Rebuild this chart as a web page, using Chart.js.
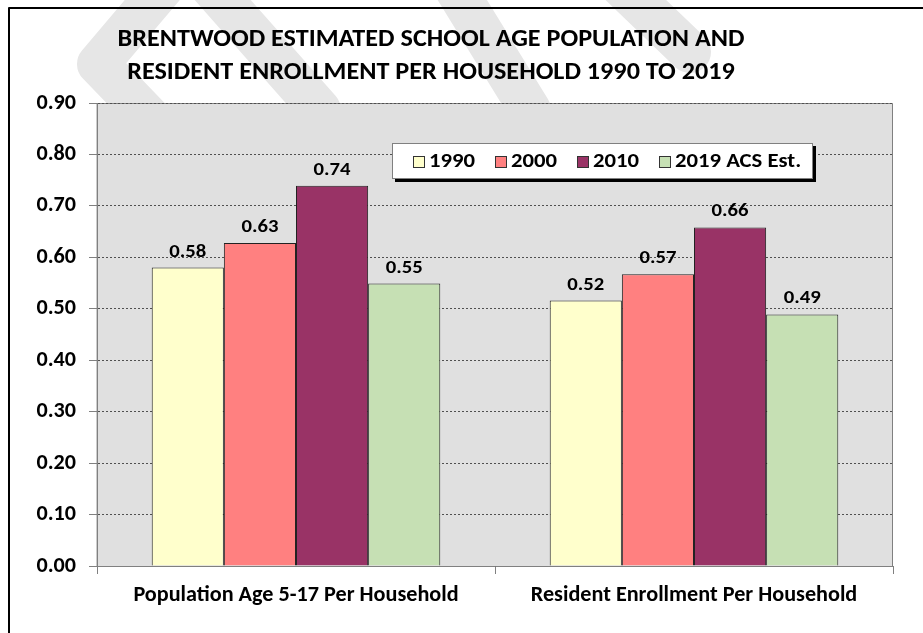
<!DOCTYPE html>
<html>
<head>
<meta charset="utf-8">
<script src="https://cdn.jsdelivr.net/npm/chart.js@4.4.1/dist/chart.umd.min.js"></script>
<style>
  html, body { margin: 0; padding: 0; background: #fff; overflow: hidden; }
  #wrap { position: relative; width: 923px; height: 633px; }
</style>
</head>
<body>
<div id="wrap"><canvas id="chart" width="923" height="633"></canvas></div>
<script>
// chart data
const categories = ['Population Age 5-17 Per Household', 'Resident Enrollment Per Household'];
const seriesLabels = ['1990', '2000', '2010', '2019 ACS Est.'];
const values1990 = [0.580, 0.516];
const values2000 = [0.628, 0.567];
const values2010 = [0.739, 0.658];
const values2019 = [0.549, 0.489];
const seriesColors = ['#FFFFCC', '#FF8080', '#993366', '#C6E0B4'];
const titleLines = ['BRENTWOOD ESTIMATED SCHOOL AGE POPULATION AND', 'RESIDENT ENROLLMENT PER HOUSEHOLD 1990 TO 2019'];

// pick the first installed font from the list
function pickFont(list) {
  const c = document.createElement('canvas').getContext('2d');
  const probe = 'BRENTWOOD 0.90 Household';
  c.font = 'bold 40px monospace';
  const base = c.measureText(probe).width;
  for (const f of list) {
    c.font = `bold 40px "${f}", monospace`;
    if (Math.abs(c.measureText(probe).width - base) > 0.5) return `"${f}"`;
  }
  return 'sans-serif';
}
const FONT = pickFont(['Carlito', 'Calibri', 'Liberation Sans Narrow', 'DejaVu Sans Condensed', 'Liberation Sans']);

// font size that makes text about as wide as in the reference
const measureCtx = document.createElement('canvas').getContext('2d');
function textWidth(text, size) {
  measureCtx.font = `bold ${size}px ${FONT}`;
  return measureCtx.measureText(text).width;
}
function fitSize(text, width) {
  return Math.round(20 * width / textWidth(text, 20) * 10) / 10;
}
const tickSize = fitSize('0.90', 38) * 1.04;
const catSize = fitSize(categories[0], 326);

// the reference text is a little wider than the font, so custom text is drawn stretched
const titleSize = 24;
const titleStretch = 627 / textWidth(titleLines[0], titleSize);
const legendSize = 20;
const legendStretch = 46 / textWidth(seriesLabels[0], legendSize);
const labelSize = 19;
const labelStretch = 37 / textWidth('0.74', labelSize);

function drawText(ctx, text, x, y, stretch, align) {
  ctx.save();
  ctx.translate(x, y);
  ctx.scale(stretch, 1);
  ctx.textAlign = align;
  ctx.fillText(text, 0, 0);
  ctx.restore();
}

Chart.defaults.font.family = FONT;
Chart.defaults.color = '#000';

const frameAndBackground = {
  id: 'frameAndBackground',
  beforeDraw(chart) {
    const { ctx, chartArea: a } = chart;
    ctx.save();
    // faint watermark behind the chart
    ctx.strokeStyle = '#e6e6e6';
    ctx.lineWidth = 42;
    ctx.lineJoin = 'round';
    ctx.lineCap = 'round';
    ctx.beginPath();
    ctx.moveTo(150, 118); ctx.lineTo(98, 64); ctx.lineTo(165, -15);
    ctx.moveTo(205, -20); ctx.lineTo(320, 110);
    ctx.moveTo(450, -20); ctx.lineTo(530, 110);
    ctx.moveTo(615, -20); ctx.lineTo(690, 52);
    ctx.stroke();
    // outer frame
    ctx.strokeStyle = '#000';
    ctx.lineWidth = 2;
    ctx.strokeRect(9, 8, 1000, 1000);
    // plot area
    ctx.fillStyle = '#e0e0e0';
    ctx.fillRect(a.left, a.top, a.right - a.left, a.bottom - a.top);
    ctx.strokeStyle = '#808080';
    ctx.lineWidth = 1;
    ctx.strokeRect(a.left + 0.5, a.top + 0.5, a.right - a.left - 1, a.bottom - a.top);
    ctx.restore();
  },
  afterDraw(chart) {
    const ctx = chart.ctx;
    ctx.save();
    ctx.fillStyle = '#000';
    ctx.textBaseline = 'alphabetic';
    ctx.font = `bold ${titleSize}px ${FONT}`;
    drawText(ctx, titleLines[0], 431, 46, titleStretch, 'center');
    drawText(ctx, titleLines[1], 431, 79, titleStretch, 'center');

    // legend box with drop shadow
    const box = { x: 392, y: 143, w: 421, h: 36 };
    ctx.fillStyle = '#000';
    ctx.fillRect(box.x + 3, box.y + 3, box.w, box.h);
    ctx.fillStyle = '#fff';
    ctx.fillRect(box.x, box.y, box.w, box.h);
    ctx.strokeStyle = '#808080';
    ctx.lineWidth = 1;
    ctx.strokeRect(box.x + 0.5, box.y + 0.5, box.w - 1, box.h - 1);

    ctx.font = `bold ${legendSize}px ${FONT}`;
    const sq = 12, pitch = 82;
    const base = box.y + 24;
    chart.data.datasets.forEach((d, i) => {
      const x = box.x + 21 + i * pitch;
      ctx.fillStyle = d.backgroundColor;
      ctx.fillRect(x, base - 11, sq, sq);
      ctx.strokeStyle = '#333';
      ctx.strokeRect(x + 0.5, base - 10.5, sq - 1, sq - 1);
      ctx.fillStyle = '#000';
      drawText(ctx, d.label, x + sq + 4, base, legendStretch, 'left');
    });
    ctx.restore();
  },
  afterDatasetsDraw(chart) {
    const ctx = chart.ctx;
    ctx.save();
    ctx.font = `bold ${labelSize}px ${FONT}`;
    ctx.fillStyle = '#000';
    ctx.textBaseline = 'alphabetic';
    chart.data.datasets.forEach((ds, i) => {
      chart.getDatasetMeta(i).data.forEach((bar, j) => {
        drawText(ctx, ds.data[j].toFixed(2), bar.x, bar.y - 11, labelStretch, 'center');
      });
    });
    ctx.restore();
  }
};

const datasets = [values1990, values2000, values2010, values2019].map((vals, i) => ({
  label: seriesLabels[i],
  data: vals,
  backgroundColor: seriesColors[i],
  borderColor: '#222',
  borderWidth: 1,
  categoryPercentage: 0.725,
  barPercentage: 1.0
}));

new Chart(document.getElementById('chart'), {
  type: 'bar',
  data: { labels: categories, datasets },
  plugins: [frameAndBackground],
  options: {
    responsive: false,
    animation: false,
    layout: { padding: { left: 0, top: 103, right: 30, bottom: 0 } },
    plugins: {
      legend: { display: false },
      tooltip: { enabled: false },
      title: { display: false }
    },
    scales: {
      x: {
        grid: { display: true, drawOnChartArea: false, offset: true, tickLength: 8, color: '#808080' },
        border: { display: true, color: '#808080', width: 1 },
        ticks: { font: { size: catSize, weight: 'bold' }, color: '#000', padding: 8, maxRotation: 0 },
        afterFit: s => { s.height = 67; }
      },
      y: {
        min: 0,
        max: 0.9,
        ticks: {
          stepSize: 0.1,
          callback: v => v.toFixed(2),
          font: { size: tickSize, weight: 'bold' },
          color: '#000',
          padding: 13
        },
        grid: { color: '#505050', tickLength: 8, tickColor: '#808080' },
        border: { display: true, color: '#808080', dash: [2, 2] },
        afterFit: s => { s.height = s.height; s.width = 97; }
      }
    }
  }
});
</script>
</body>
</html>
